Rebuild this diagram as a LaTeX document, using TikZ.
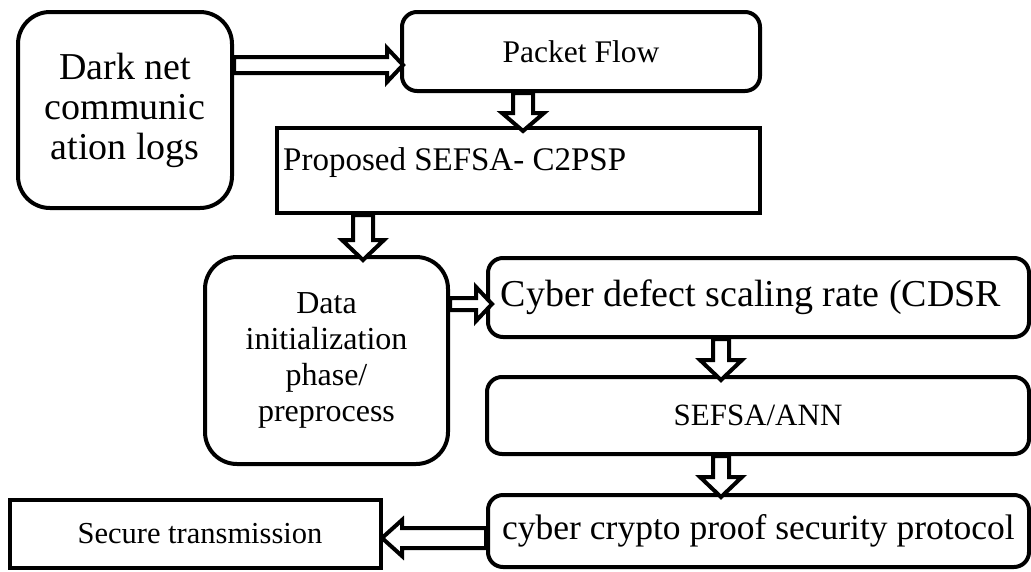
\documentclass[tikz,border=0pt]{standalone}
\usepackage{fontspec}
\setmainfont{Liberation Serif}
\usetikzlibrary{calc}
\tikzset{
  box/.style={draw=black, line width=4pt, fill=white, inner sep=0pt, align=center},
  rbox/.style={box, rounded corners=#1},
  arrowline/.style={draw=black, line width=4pt, fill=white, line join=miter},
}
\newcommand\fs[2]{\fontsize{#1}{#2}\selectfont}
\newcommand\blockarrow[5]{%
  \draw[arrowline] let \p1=(#4), \p2=(#5), \n1={atan2(\y2-\y1,\x2-\x1)} in
    ($(\p1)+({\n1+90}:#1)$) --
    ($(\p2)+({\n1+180}:#3)+({\n1+90}:#1)$) --
    ($(\p2)+({\n1+180}:#3)+({\n1+90}:#2)$) --
    (\p2) --
    ($(\p2)+({\n1+180}:#3)+({\n1-90}:#2)$) --
    ($(\p2)+({\n1+180}:#3)+({\n1-90}:#1)$) --
    ($(\p1)+({\n1-90}:#1)$) -- cycle;}
\begin{document}
\begin{tikzpicture}[x=1pt,y=-1pt]
\useasboundingbox[fill=white] (0,0) rectangle (1031,571);

\node[rbox=32pt, minimum width=214pt, minimum height=196pt, font=\fs{38}{40}] (dark) at (125,110) {Dark net\\communic\\ation logs};
\node[rbox=15pt, minimum width=358pt, minimum height=79pt, font=\fs{31.5}{36}] (pf) at (581,51.5) {Packet Flow};
\node[box, minimum width=483pt, minimum height=85pt] (prop) at (518.5,170.5) {};
\node[anchor=west, inner sep=0pt, font=\fs{33}{38}] (proptext) at (283,163) {Proposed SEFSA- C2PSP};
\node[rbox=32pt, minimum width=243pt, minimum height=207pt, font=\fs{32}{36}] (data) at (326.5,360.5) {Data\\initialization\\phase/\\preprocess};
\node[rbox=15pt, minimum width=541pt, minimum height=79pt] (cyber) at (758.5,297.5) {};
\node[inner sep=0pt, font=\fs{38}{42}] (cybertext) at (751,297) {Cyber defect scaling rate (CDSR};
\node[rbox=15pt, minimum width=542pt, minimum height=77pt, font=\fs{31}{36}] (sefsa) at (758,415.5) {SEFSA/ANN};
\node[rbox=15pt, minimum width=541pt, minimum height=72pt, font=\fs{35.5}{40}] (crypto) at (758.5,531) {cyber crypto proof security protocol};
\node[box, minimum width=371pt, minimum height=68pt, font=\fs{30.5}{35}] (secure) at (195.5,534) {};
\node[inner sep=0pt, font=\fs{30.5}{35}] (securetext) at (200,534) {Secure transmission};

\coordinate (t1) at (403,65);
\coordinate (t2) at (523,131);
\coordinate (t3) at (363,260);
\coordinate (t4) at (492,304);
\coordinate (t5) at (721,380);
\coordinate (t6) at (721,497);
\coordinate (t7) at (382,538);

\blockarrow{8pt}{17pt}{16pt}{dark.east |- t1}{t1}
\blockarrow{10pt}{21pt}{18pt}{pf.south -| t2}{t2}
\blockarrow{10pt}{21pt}{20pt}{prop.south -| t3}{t3}
\blockarrow{6pt}{17pt}{16pt}{data.east |- t4}{t4}
\blockarrow{8pt}{21pt}{20pt}{cyber.south -| t5}{t5}
\blockarrow{8pt}{21pt}{20pt}{sefsa.south -| t6}{t6}
\blockarrow{10pt}{18pt}{20pt}{crypto.west |- t7}{t7}
\end{tikzpicture}
\end{document}
